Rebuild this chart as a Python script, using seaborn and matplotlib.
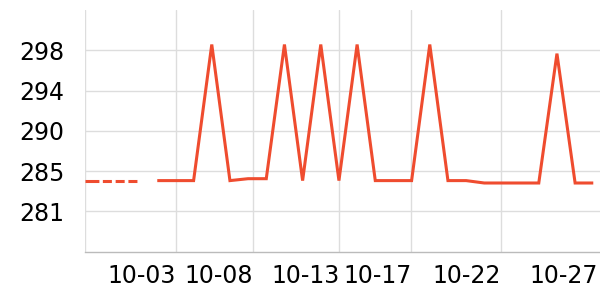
import matplotlib
matplotlib.use("Agg")
import matplotlib.pyplot as plt
import seaborn as sns
import pandas as pd
import numpy as np

# ---- data ----
dashed_idx = [0, 1, 2, 3]
dashed_vals = [284.4, 284.4, 284.4, 284.4]
solid_idx = list(range(4, 29))
solid_vals = [284.4, 284.4, 284.4, 298.6, 284.4, 284.6, 284.6, 298.6, 284.4,
              298.6, 284.4, 298.6, 284.4, 284.4, 284.4, 298.6, 284.4, 284.4,
              284.15, 284.15, 284.15, 284.15, 297.65, 284.15, 284.15]
x_tick_pos = [0, 5.01, 9.28, 14.02, 17.98, 22.93, 28.25]
x_tick_labels = ["", "10-03", "10-08", "10-13", "10-17", "10-22", "10-27"]
y_tick_pos = [281.2, 285.4, 289.6, 293.8, 298.0]
y_tick_labels = ["281", "285", "290", "294", "298"]

LINE = "#ef4c2f"

sns.set_style("white")
plt.rcParams['font.family'] = ['DejaVu Sans']
plt.rcParams['lines.scale_dashes'] = False

fig = plt.figure(figsize=(6, 3), dpi=100)
ax = fig.add_axes([84.6 / 600, 1 - 252.3 / 300, (600 - 84.6) / 600, (252.3 - 10) / 300])

df_s = pd.DataFrame({"x": solid_idx, "y": solid_vals})
df_d = pd.DataFrame({"x": dashed_idx, "y": dashed_vals})

sns.lineplot(data=df_s, x="x", y="y", ax=ax, color=LINE, linewidth=2.2)
sns.lineplot(data=df_d, x="x", y="y", ax=ax, color=LINE, linewidth=2.2)
lines = ax.get_lines()
lines[0].set_solid_joinstyle('miter')
lines[0].set_solid_capstyle('butt')
lines[1].set_dashes([10, 2.5, 6.5, 2.7, 6.5, 2.7, 6.5, 10])
lines[1].set_dash_capstyle('butt')

ax.set_xlim(0, 28.37)
ax.set_ylim(276.92, 302.2)
ax.set_xticks(x_tick_pos)
ax.set_xticklabels(x_tick_labels, ha='right')
ax.set_yticks(y_tick_pos)
ax.set_yticklabels(y_tick_labels)
ax.set_xlabel("")
ax.set_ylabel("")

ax.grid(True, color="#dddddd", linewidth=1.0)
ax.set_axisbelow(True)
for s in ["left", "right", "top"]:
    ax.spines[s].set_visible(False)
ax.spines["bottom"].set_color("#bbbbbb")
ax.spines["bottom"].set_linewidth(1.0)

ax.tick_params(axis='y', length=0, pad=14.4, labelsize=17, labelcolor="black")
ax.tick_params(axis='x', length=2.5, width=1.0, color="#bbbbbb", pad=6,
               labelsize=17, labelcolor="black")

last = ax.xaxis.get_major_ticks()[-1]
last.gridline.set_visible(False)
last.tick1line.set_visible(False)

fig.savefig("out.png", dpi=100)
